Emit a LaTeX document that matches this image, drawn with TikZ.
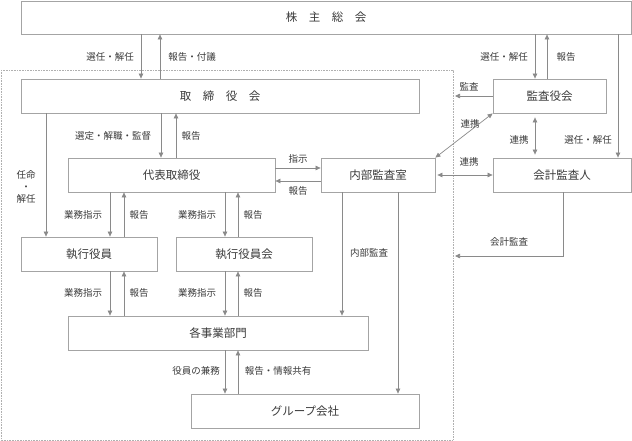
\documentclass[tikz,border=0pt]{standalone}
\usepackage{fontspec}
\setmainfont{Noto Sans CJK JP}
\usetikzlibrary{arrows.meta}
\definecolor{ln}{HTML}{8A8A8A}
\definecolor{bx}{HTML}{A4A4A4}
\definecolor{tx}{HTML}{3A3A3A}
\definecolor{dt}{HTML}{B0B0B0}
\begin{document}
\begin{tikzpicture}[x=1pt,y=-1pt,
  box/.style={draw=bx, line width=0.8pt, fill=white, inner sep=0pt, text=tx,
    font=\fontsize{11.5}{12}\selectfont},
  lbl/.style={text=tx, font=\fontsize{9.5}{12}\selectfont, inner sep=0pt, align=center},
  conn/.style={draw=ln, line width=0.7pt},
  arr/.style={conn, -{Triangle[length=5pt,width=4.5pt]}},
  darr/.style={conn, {Triangle[length=5pt,width=4.5pt]}-{Triangle[length=5pt,width=4.5pt]}}]
\useasboundingbox (0,0) rectangle (632,441);
% dotted frame
\draw[dt, line width=0.6pt, dash pattern=on 0.8pt off 0.8pt] (1,70) rectangle (453,440);
% boxes
\node[box, minimum width=610pt, minimum height=33pt] (kabu) at (326,17.5)
  {株\hspace{1em}主\hspace{1em}総\hspace{1em}会};
\node[box, minimum width=398pt, minimum height=34pt] (tori) at (220,96)
  {取\hspace{1em}締\hspace{1em}役\hspace{1em}会};
\node[box, minimum width=113pt, minimum height=34pt] (kansa) at (549.5,96) {監査役会};
\node[box, minimum width=207pt, minimum height=34pt] (daihyo) at (171.5,175) {代表取締役};
\node[box, minimum width=114pt, minimum height=34pt] (naibu) at (378,175) {内部監査室};
\node[box, minimum width=138pt, minimum height=34pt] (kaikei) at (562,175) {会計監査人};
\node[box, minimum width=136pt, minimum height=34pt] (shikko) at (89,254) {執行役員};
\node[box, minimum width=136pt, minimum height=34pt] (shikkokai) at (244,254) {執行役員会};
\node[box, minimum width=300pt, minimum height=34pt] (jigyo) at (218,333) {各事業部門};
\node[box, minimum width=228pt, minimum height=34pt] (group) at (305,411) {グループ会社};
% free ends
\coordinate (kansaEnd) at (455,96);
\coordinate (kaikeiCorner) at (563,256);
\coordinate (kaikeiEnd) at (455,256);
% shareholders <-> board
\draw[arr] (kabu.south -| 141,0) -- (tori.north -| 141,0);
\draw[arr] (tori.north -| 160,0) -- (kabu.south -| 160,0);
\node[lbl] at (110,57) {選任・解任};
\node[lbl] at (192,57) {報告・付議};
% shareholders <-> audit board
\draw[arr] (kabu.south -| 535,0) -- (kansa.north -| 535,0);
\draw[arr] (kansa.north -| 547,0) -- (kabu.south -| 547,0);
\node[lbl] at (504,57) {選任・解任};
\node[lbl] at (566,57) {報告};
% shareholders -> accounting auditor
\draw[arr] (kabu.south -| 618,0) -- (kaikei.north -| 618,0);
\node[lbl] at (588,140) {選任・解任};
% audit board -> 監査
\draw[arr] (kansa.west) -- (kansaEnd);
\node[lbl] at (469,87) {監査};
% 連携 diagonal
\draw[darr] (kansa.south west) -- (naibu.north east);
\node[lbl] at (470,124) {連携};
% 連携 vertical
\draw[darr, shorten <=4pt, shorten >=3pt] (kansa.south -| 535,0) -- (kaikei.north -| 535,0);
\node[lbl] at (519,140) {連携};
% 連携 horizontal
\draw[darr, shorten <=2pt] (naibu.east) -- (kaikei.west);
\node[lbl] at (469,162) {連携};
% 指示 / 報告
\draw[arr] (daihyo.east |- 0,168) -- (naibu.west |- 0,168);
\draw[arr] (naibu.west |- 0,181) -- (daihyo.east |- 0,181);
\node[lbl] at (298,159) {指示};
\node[lbl] at (298,191) {報告};
% board <-> representative director
\draw[arr] (tori.south -| 161,0) -- (daihyo.north -| 161,0);
\draw[arr] (daihyo.north -| 176,0) -- (tori.south -| 176,0);
\node[lbl] at (113,136) {選定・解職・監督};
\node[lbl] at (191,136) {報告};
% board -> executive officers
\draw[arr] (tori.south -| 46,0) -- (shikko.north -| 46,0);
\node[lbl] at (26,187) {任命\\・\\解任};
% representative -> executive officers
\draw[arr] (daihyo.south -| 110,0) -- (shikko.north -| 110,0);
\draw[arr] (shikko.north -| 124,0) -- (daihyo.south -| 124,0);
\node[lbl] at (83,215) {業務指示};
\node[lbl] at (139,215) {報告};
\draw[arr] (daihyo.south -| 225,0) -- (shikkokai.north -| 225,0);
\draw[arr] (shikkokai.north -| 238,0) -- (daihyo.south -| 238,0);
\node[lbl] at (197,215) {業務指示};
\node[lbl] at (253,215) {報告};
% executive -> business divisions
\draw[arr] (shikko.south -| 110,0) -- (jigyo.north -| 110,0);
\draw[arr] (jigyo.north -| 124,0) -- (shikko.south -| 124,0);
\node[lbl] at (83,293) {業務指示};
\node[lbl] at (139,293) {報告};
\draw[arr] (shikkokai.south -| 225,0) -- (jigyo.north -| 225,0);
\draw[arr] (jigyo.north -| 238,0) -- (shikkokai.south -| 238,0);
\node[lbl] at (197,293) {業務指示};
\node[lbl] at (253,293) {報告};
% internal audit
\draw[arr] (naibu.south -| 342,0) -- (jigyo.north -| 342,0);
\draw[arr] (naibu.south -| 398,0) -- (group.north -| 398,0);
\node[lbl] at (369,253) {内部監査};
% business divisions <-> group companies
\draw[arr] (jigyo.south -| 225,0) -- (group.north -| 225,0);
\draw[arr] (group.north -| 238,0) -- (jigyo.south -| 238,0);
\node[lbl] at (196,371) {役員の兼務};
\node[lbl] at (278,371) {報告・情報共有};
% accounting audit
\draw[arr] (kaikei.south -| kaikeiCorner) -- (kaikeiCorner) -- (kaikeiEnd);
\node[lbl] at (509,242) {会計監査};
\end{tikzpicture}
\end{document}
